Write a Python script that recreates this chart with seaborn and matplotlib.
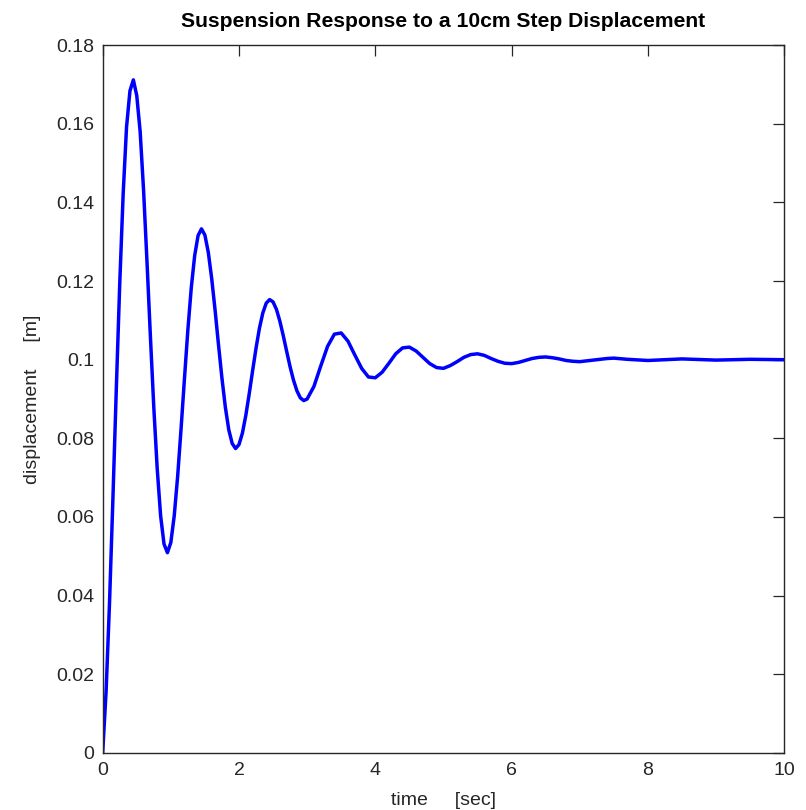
import matplotlib
matplotlib.use("Agg")
import matplotlib.pyplot as plt
import seaborn as sns

# values
time_s = [
    0.00, 0.05, 0.10, 0.15, 0.20, 0.25, 0.30, 0.35, 0.40, 0.45,
    0.50, 0.55, 0.60, 0.65, 0.70, 0.75, 0.80, 0.85, 0.90, 0.95,
    1.00, 1.05, 1.10, 1.15, 1.20, 1.25, 1.30, 1.35, 1.40, 1.45,
    1.50, 1.55, 1.60, 1.65, 1.70, 1.75, 1.80, 1.85, 1.90, 1.95,
    2.00, 2.05, 2.10, 2.15, 2.20, 2.25, 2.30, 2.35, 2.40, 2.45,
    2.50, 2.55, 2.60, 2.65, 2.70, 2.75, 2.80, 2.85, 2.90, 2.95,
    3.00,
    3.1, 3.2, 3.3, 3.4, 3.5, 3.6, 3.7, 3.8, 3.9, 4.0,
    4.1, 4.2, 4.3, 4.4, 4.5, 4.6, 4.7, 4.8, 4.9, 5.0,
    5.1, 5.2, 5.3, 5.4, 5.5, 5.6, 5.7, 5.8, 5.9, 6.0,
    6.1, 6.2, 6.3, 6.4, 6.5, 6.6, 6.7, 6.8, 6.9, 7.0,
    7.2, 7.4, 7.5, 7.7, 8.0, 8.5, 9.0, 9.5, 10.0,
]
disp_m = [
    0.0000, 0.0156, 0.0380, 0.0646, 0.0926, 0.1192, 0.1420, 0.1592, 0.1684, 0.1712,
    0.1672, 0.1580, 0.1431, 0.1250, 0.1060, 0.0879, 0.0723, 0.0603, 0.0531, 0.0509,
    0.0535, 0.0603, 0.0703, 0.0824, 0.0952, 0.1076, 0.1183, 0.1265, 0.1316, 0.1333,
    0.1317, 0.1273, 0.1206, 0.1125, 0.1037, 0.0953, 0.0879, 0.0822, 0.0787, 0.0774,
    0.0784, 0.0813, 0.0858, 0.0913, 0.0972, 0.1029, 0.1080, 0.1119, 0.1144, 0.1153,
    0.1147, 0.1128, 0.1098, 0.1061, 0.1021, 0.0982, 0.0948, 0.0921, 0.0903, 0.0896,
    0.0900,
    0.0932, 0.0984, 0.1034, 0.1065, 0.1068, 0.1047, 0.1012, 0.0978, 0.0956, 0.0954,
    0.0968, 0.0991, 0.1015, 0.1030, 0.1032, 0.1022, 0.1006, 0.0990, 0.0980, 0.0978,
    0.0985, 0.0995, 0.1006, 0.1013, 0.1015, 0.1011, 0.1003, 0.0996, 0.0991, 0.0990,
    0.0993, 0.0998, 0.1003, 0.1006, 0.1007, 0.1005, 0.1002, 0.0998, 0.0996, 0.0995,
    0.0999, 0.1003, 0.1004, 0.1001, 0.0998, 0.1002, 0.0999, 0.1001, 0.1000,
]

x_ticks = [0, 2, 4, 6, 8, 10]
x_tick_labels = ["0", "2", "4", "6", "8", "10"]
y_ticks = [0, 0.02, 0.04, 0.06, 0.08, 0.10, 0.12, 0.14, 0.16, 0.18]
y_tick_labels = ["0", "0.02", "0.04", "0.06", "0.08", "0.1", "0.12", "0.14", "0.16", "0.18"]

sns.set_style("white")
plt.rcParams["font.family"] = ["Liberation Sans", "DejaVu Sans"]

fig = plt.figure(figsize=(8.06, 8.10), dpi=100)
ax = fig.add_axes([0.1274, 0.0707, 0.8455, 0.8734])

sns.lineplot(x=time_s, y=disp_m, color="#0000ff", linewidth=2.5, ax=ax)

ax.set_xlim(0, 10)
ax.set_ylim(0, 0.18)
ax.set_xticks(x_ticks)
ax.set_xticklabels(x_tick_labels)
ax.set_yticks(y_ticks)
ax.set_yticklabels(y_tick_labels)
ax.tick_params(direction="in", length=8, width=0.9, top=True, right=True,
               labelsize=14, colors="#262626")
ax.tick_params(axis="x", pad=7)
ax.tick_params(axis="y", pad=6)
for side in ax.spines.values():
    side.set_color("#262626")
    side.set_linewidth(1.0)

ax.set_title("Suspension Response to a 10cm Step Displacement",
             fontsize=15.2, fontweight="bold", pad=13, color="black")
ax.set_xlabel("time     [sec]", fontsize=14, color="#262626", labelpad=9)
ax.set_ylabel("displacement     [m]", fontsize=14, color="#262626", labelpad=11)

fig.savefig("out.png", dpi=100, facecolor="white")
